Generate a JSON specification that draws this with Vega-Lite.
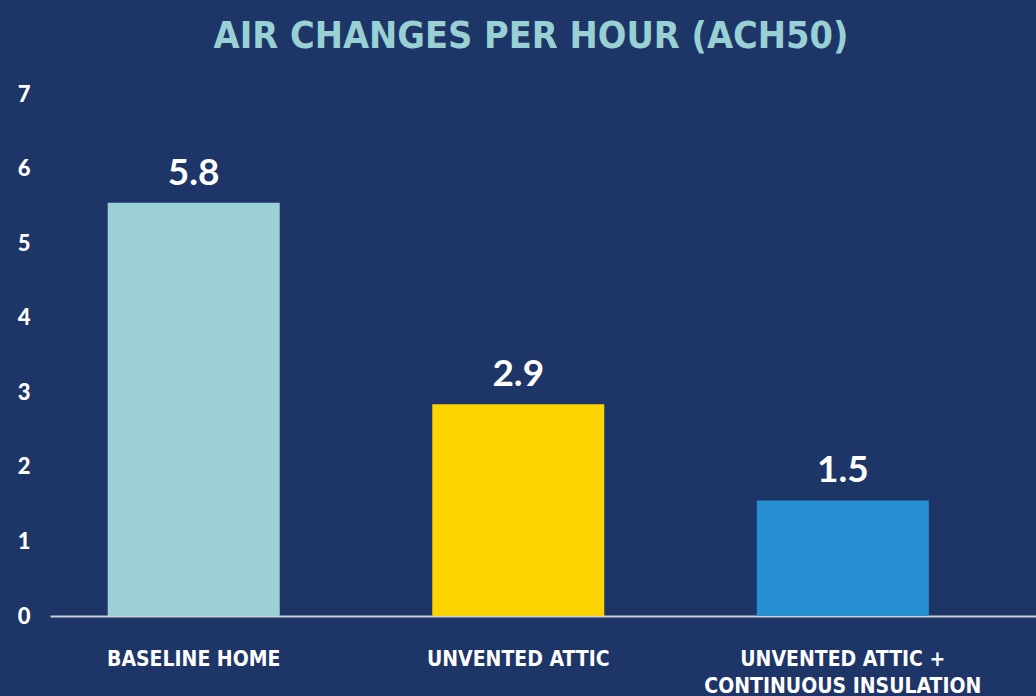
{
  "$schema": "https://vega.github.io/schema/vega-lite/v6.json",
  "width": 986,
  "height": 522,
  "autosize": {"type": "none"},
  "padding": {"left": 50, "top": 94, "right": 0, "bottom": 80},
  "background": "#1e3567",
  "title": {
    "text": "AIR CHANGES PER HOUR (ACH50)",
    "color": "#98d0d4",
    "font": "DejaVu Sans Condensed",
    "fontWeight": "bold",
    "fontSize": 37.5,
    "anchor": "middle",
    "dx": -12,
    "offset": 28
  },
  "data": {
    "values": [
      {"category": "BASELINE HOME", "value": 5.54, "label": "5.8", "color": "#9bd1d5"},
      {"category": "UNVENTED ATTIC", "value": 2.84, "label": "2.9", "color": "#fdd300"},
      {"category": "UNVENTED ATTIC +|CONTINUOUS INSULATION", "value": 1.55, "label": "1.5", "color": "#2690d2"}
    ]
  },
  "config": {
    "view": {"stroke": null},
    "axis": {"grid": false, "ticks": false, "title": null}
  },
  "encoding": {
    "x": {
      "field": "category",
      "type": "nominal",
      "sort": null,
      "scale": {"paddingInner": 0.47, "paddingOuter": 0.254, "align": 0.35},
      "axis": {
        "labelAngle": 0,
        "labelExpr": "split(datum.value, '|')",
        "labelFont": "DejaVu Sans Condensed",
        "labelFontWeight": "bold",
        "labelFontSize": 21,
        "labelLimit": 0,
        "labelColor": "#ffffff",
        "labelLineHeight": 27,
        "labelPadding": 32,
        "domainColor": "#c9cdd6",
        "domainWidth": 2
      }
    },
    "y": {
      "field": "value",
      "type": "quantitative",
      "scale": {"domain": [0, 7], "nice": false},
      "axis": {
        "values": [0, 1, 2, 3, 4, 5, 6, 7],
        "domain": false,
        "labelFont": "Lato",
        "labelFontWeight": 900,
        "labelFontSize": 22,
        "labelColor": "#ffffff",
        "labelPadding": 20
      }
    }
  },
  "layer": [
    {
      "mark": {"type": "bar"},
      "encoding": {
        "color": {"field": "color", "type": "nominal", "scale": null}
      }
    },
    {
      "mark": {
        "type": "text",
        "baseline": "alphabetic",
        "dy": -18,
        "font": "Lato",
        "fontWeight": "bold",
        "fontSize": 37,
        "color": "#ffffff"
      },
      "encoding": {"text": {"field": "label"}}
    }
  ]
}
